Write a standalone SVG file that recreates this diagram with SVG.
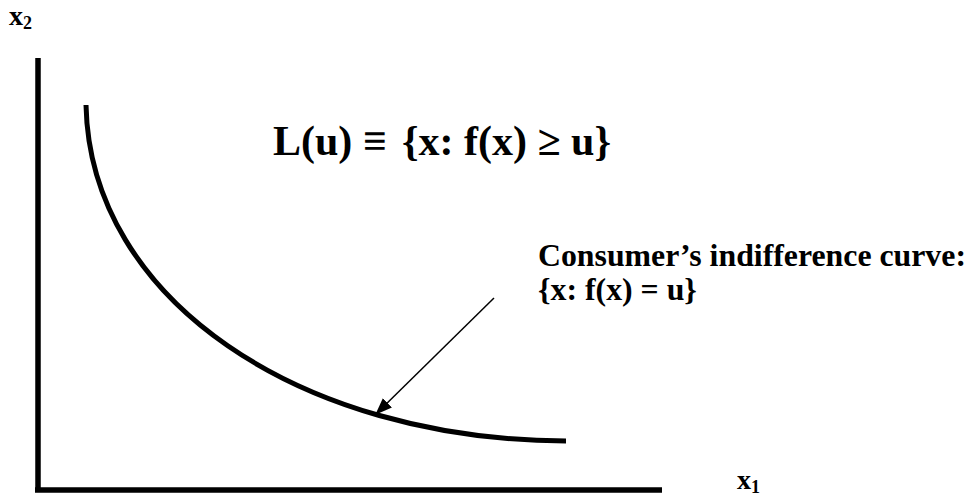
<svg xmlns="http://www.w3.org/2000/svg" width="971" height="497" viewBox="0 0 971 497">
<style>
.t{font-family:"Liberation Serif","Times New Roman",serif;font-weight:bold;fill:#000}
.ax{stroke:#000;stroke-width:5.5;fill:none}
</style>
<defs>
<marker id="ah" viewBox="0 0 17 13" refX="16" refY="6.5" markerWidth="17" markerHeight="13" markerUnits="userSpaceOnUse" orient="auto"><path d="M0,0 L17,6.5 L0,13 z" fill="#000"/></marker>
</defs>
<rect width="971" height="497" fill="#fff"/>
<g id="axes">
<path class="ax" d="M38,58 V492 M35,490 H662"/>
</g>
<g id="curve">
<path d="M86,105 C90,300 300,440 566,441" fill="none" stroke="#000" stroke-width="5"/>
</g>
<g id="connectors">
<line x1="494" y1="298" x2="376" y2="414" stroke="#000" stroke-width="1.5" marker-end="url(#ah)"/>
</g>
<g id="label-x2"><text class="t" x="9" y="25" font-size="28">x<tspan font-size="18" dy="4">2</tspan></text></g>
<g id="label-x1"><text class="t" x="737" y="489" font-size="28">x<tspan font-size="18" dy="4">1</tspan></text></g>
<g id="label-L"><text class="t" y="155" font-size="42"><tspan x="273">L(u)</tspan><tspan x="363">≡</tspan><tspan x="402">{x: f(x) ≥ u}</tspan></text></g>
<g id="label-curve">
<text class="t" x="538" y="266" font-size="31.8">Consumer’s indifference curve:</text>
<text class="t" x="538" y="300" font-size="31.8">{x: f(x) = u}</text>
</g>
</svg>
